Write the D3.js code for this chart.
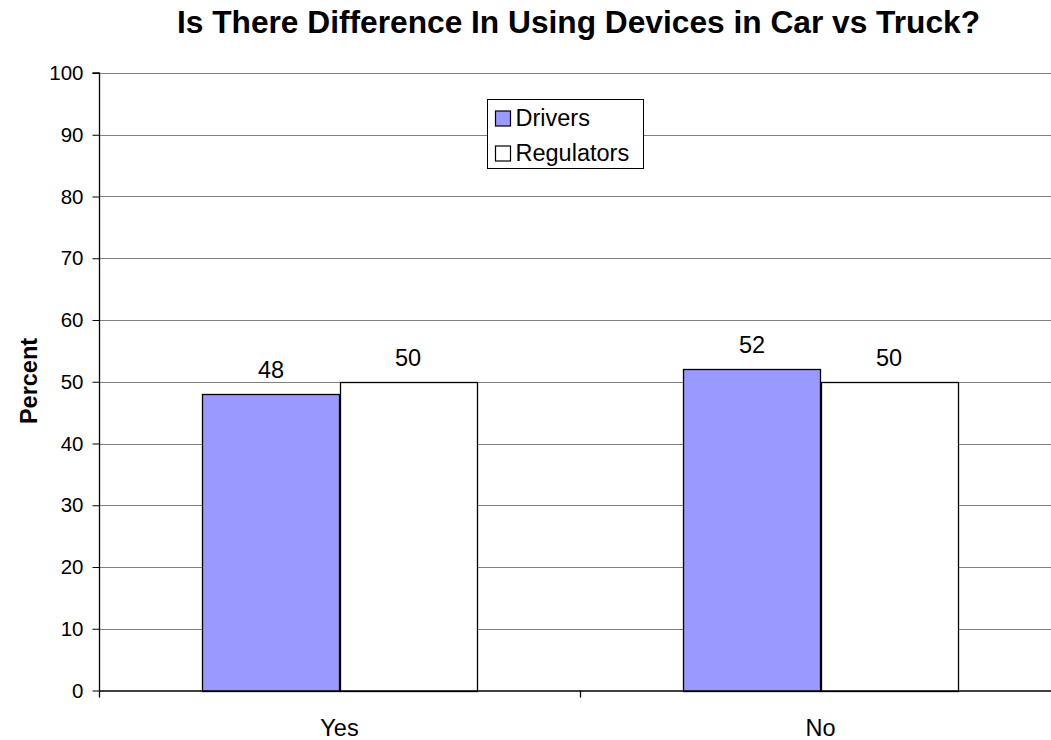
<!DOCTYPE html>
<html><head><meta charset="utf-8">
<script src="https://cdn.jsdelivr.net/npm/d3@7"></script>
<style>body{margin:0;background:#fff;}svg{display:block;font-family:"Liberation Sans",Arial,sans-serif;}</style>
</head><body>
<svg id="c" width="1051" height="740"></svg>
<script>
const categories = ["Yes", "No"];
const seriesNames = ["Drivers", "Regulators"];
const drivers = [48, 52];
const regulators = [50, 50];
const yTicks = [0,10,20,30,40,50,60,70,80,90,100];
const colors = {Drivers:"#9999FF", Regulators:"#FFFFFF"};

const svg = d3.select("#c");
const pLeft = 99, pRight = 1061, pTop = 73, pBottom = 690.5;
const x = d3.scaleBand().domain(categories).range([pLeft, pRight]).paddingInner(0).paddingOuter(0);
const y = d3.scaleLinear().domain([0,100]).range([pBottom, pTop]);
const x1 = d3.scaleBand().domain(seriesNames).range([0, x.bandwidth()]).paddingOuter(0.755).paddingInner(0);

// gridlines
svg.append("g").selectAll("line").data(yTicks.filter(d=>d>0)).join("line")
  .attr("x1", pLeft).attr("x2", pRight)
  .attr("y1", d=>Math.round(y(d))+0.5).attr("y2", d=>Math.round(y(d))+0.5)
  .attr("stroke", "#808080").attr("stroke-width", 1);

// bars
const data = categories.map((c,i)=>({cat:c, vals:[{s:"Drivers", v:drivers[i]},{s:"Regulators", v:regulators[i]}]}));
const g = svg.append("g").selectAll("g").data(data).join("g")
  .attr("transform", d=>`translate(${x(d.cat)},0)`);
g.selectAll("rect").data(d=>d.vals).join("rect")
  .attr("x", d=>Math.round(x1(d.s))+0.5)
  .attr("y", d=>Math.round(y(d.v))+0.5)
  .attr("width", Math.round(x1.bandwidth()))
  .attr("height", d=>Math.round(pBottom)-Math.round(y(d.v)))
  .attr("fill", d=>colors[d.s]).attr("stroke", "#000").attr("stroke-width", 1.3);
g.selectAll("text").data(d=>d.vals).join("text")
  .attr("x", d=>x1(d.s)+x1.bandwidth()/2)
  .attr("y", d=>y(d.v)-16)
  .attr("text-anchor","middle").attr("font-size", 23.5).attr("fill","#000")
  .text(d=>d.v);

// y axis
const ya = svg.append("g").attr("transform", `translate(${pLeft+0.5},0)`)
  .call(d3.axisLeft(y).tickValues(yTicks).tickSize(7).tickPadding(9).tickFormat(d3.format("d")));
ya.select(".domain").attr("stroke","#000").attr("stroke-width",1.3).attr("d", `M-7,${pTop}H0V${pBottom}`);
ya.selectAll(".tick line").attr("stroke","#000");
ya.selectAll("text").attr("font-size", 20.5).attr("font-family","Liberation Sans, Arial, sans-serif").attr("fill","#000");

// x axis
const xa = svg.append("g").attr("transform", `translate(0,${Math.round(pBottom)})`)
  .call(d3.axisBottom(x).tickSize(0).tickPadding(0));
xa.select(".domain").attr("stroke","#000").attr("stroke-width",1.3).attr("d", `M${pLeft},0H${pRight}`);
xa.selectAll("text").attr("font-size", 23.5).attr("font-family","Liberation Sans, Arial, sans-serif").attr("fill","#000")
  .attr("dy", null).attr("y", 45);
// category separator ticks
svg.append("g").selectAll("line").data(categories).join("line")
  .attr("x1", d=>Math.round(x(d))+0.5).attr("x2", d=>Math.round(x(d))+0.5)
  .attr("y1", pBottom).attr("y2", pBottom+7).attr("stroke","#000").attr("stroke-width",1.3);

// title
svg.append("text").attr("x", 578.5).attr("y", 33).attr("text-anchor","middle")
  .attr("font-size", 31.7).attr("font-weight","bold").text("Is There Difference In Using Devices in Car vs Truck?");
// y label
svg.append("text").attr("transform","translate(37,381) rotate(-90)").attr("text-anchor","middle")
  .attr("font-size", 23.5).attr("font-weight","bold").text("Percent");

// legend
const lg = svg.append("g").attr("transform","translate(487.5,99.5)");
lg.append("rect").attr("width",156).attr("height",69).attr("fill","#fff").attr("stroke","#000").attr("stroke-width",1);
seriesNames.forEach((s,i)=>{
  const yy = 19 + i*35;
  lg.append("rect").attr("x",8).attr("y",yy-7.5).attr("width",15).attr("height",15)
    .attr("fill",colors[s]).attr("stroke","#000").attr("stroke-width",1.2);
  lg.append("text").attr("x",28).attr("y",yy+7).attr("font-size",23.5).text(s);
});
</script>
</body></html>
